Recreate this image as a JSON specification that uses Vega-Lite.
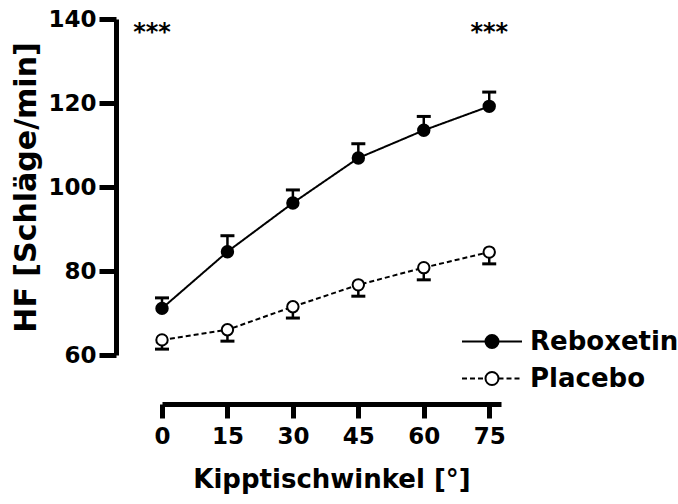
{
  "$schema": "https://vega.github.io/schema/vega-lite/v6.json",
  "width": 339,
  "height": 336,
  "autosize": {"type": "none"},
  "padding": {"left": 162, "top": 19, "right": 177, "bottom": 149},
  "background": "white",
  "config": {
    "font": "DejaVu Sans",
    "view": {"stroke": null},
    "axis": {
      "grid": false,
      "domainColor": "black",
      "domainWidth": 5,
      "tickColor": "black",
      "tickWidth": 5,
      "labelColor": "black",
      "labelFont": "DejaVu Sans",
      "labelFontWeight": "bold",
      "labelFontSize": 23,
      "titleColor": "black",
      "titleFont": "DejaVu Sans",
      "titleFontWeight": "bold",
      "titleFontSize": 26
    }
  },
  "datasets": {
    "hr": [
      {"angle": 0, "group": "Reboxetin", "hf": 71.1, "err": 73.6},
      {"angle": 15, "group": "Reboxetin", "hf": 84.6, "err": 88.4},
      {"angle": 30, "group": "Reboxetin", "hf": 96.2, "err": 99.3},
      {"angle": 45, "group": "Reboxetin", "hf": 106.9, "err": 110.3},
      {"angle": 60, "group": "Reboxetin", "hf": 113.5, "err": 116.8},
      {"angle": 75, "group": "Reboxetin", "hf": 119.2, "err": 122.6},
      {"angle": 0, "group": "Placebo", "hf": 63.6, "err": 61.4},
      {"angle": 15, "group": "Placebo", "hf": 66.0, "err": 63.3},
      {"angle": 30, "group": "Placebo", "hf": 71.5, "err": 68.8},
      {"angle": 45, "group": "Placebo", "hf": 76.7, "err": 74.0},
      {"angle": 60, "group": "Placebo", "hf": 80.8, "err": 77.9},
      {"angle": 75, "group": "Placebo", "hf": 84.5, "err": 81.7}
    ],
    "stars": [
      {"angle": 0, "hf": 140, "stars": "***"},
      {"angle": 75, "hf": 140, "stars": "***"}
    ]
  },
  "layer": [
    {
      "data": {"name": "hr"},
      "layer": [
        {
          "mark": {"type": "line", "color": "black", "strokeWidth": 2},
          "encoding": {
            "strokeDash": {
              "field": "group",
              "type": "nominal",
              "scale": {"domain": ["Reboxetin", "Placebo"], "range": [[1, 0], [5, 3]]},
              "legend": {
                "title": null,
                "orient": "none",
                "legendX": 317,
                "legendY": 309.5,
                "padding": 0,
                "symbolOffset": 0,
                "symbolType": "M-3,0H-0.65M0.65,0H3",
                "symbolSize": 400,
                "symbolStrokeWidth": 2,
                "symbolStrokeColor": "black",
                "symbolFillColor": "transparent",
                "labelFontSize": 26,
                "labelFontWeight": "bold",
                "labelOffset": 25,
                "labelOpacity": 0,
                "rowPadding": 11
              }
            }
          }
        },
        {
          "mark": {"type": "rule", "color": "black", "strokeWidth": 2.5, "opacity": 1},
          "encoding": {"y2": {"field": "err"}}
        },
        {
          "mark": {"type": "tick", "orient": "horizontal", "size": 14, "thickness": 3, "color": "black", "opacity": 1},
          "encoding": {"y": {"field": "err", "type": "quantitative"}}
        },
        {
          "mark": {"type": "point", "shape": "circle", "filled": true, "size": 130, "stroke": "black", "strokeWidth": 2, "opacity": 1},
          "encoding": {
            "fill": {
              "field": "group",
              "type": "nominal",
              "sort": "descending",
              "scale": {"range": ["black", "white"]},
              "legend": {
                "title": null,
                "orient": "none",
                "legendX": 317,
                "legendY": 309.5,
                "padding": 0,
                "symbolOffset": 0,
                "zindex": 1,
                "symbolType": "M0.65,0A0.65,0.65,0,1,1,-0.65,0A0.65,0.65,0,1,1,0.65,0Z",
                "symbolSize": 400,
                "symbolStrokeWidth": 2,
                "symbolStrokeColor": "black",
                "symbolOpacity": 1,
                "labelFont": "DejaVu Sans",
                "labelFontSize": 26,
                "labelFontWeight": "bold",
                "labelColor": "black",
                "labelOffset": 25,
                "rowPadding": 11
              }
            }
          }
        }
      ]
    },
    {
      "data": {"name": "stars"},
      "transform": [{"filter": "datum.angle == 0"}],
      "mark": {"type": "text", "fontSize": 24, "fontWeight": "bold", "color": "black", "baseline": "alphabetic", "dx": -10, "dy": 21},
      "encoding": {"text": {"field": "stars"}}
    },
    {
      "data": {"name": "stars"},
      "transform": [{"filter": "datum.angle == 75"}],
      "mark": {"type": "text", "fontSize": 24, "fontWeight": "bold", "color": "black", "baseline": "alphabetic", "dy": 21},
      "encoding": {"text": {"field": "stars"}}
    }
  ],
  "encoding": {
    "x": {
      "field": "angle",
      "type": "quantitative",
      "scale": {"domain": [0, 77.7], "nice": false, "zero": false},
      "axis": {
        "values": [0, 15, 30, 45, 60, 75],
        "offset": 49,
        "tickSize": 14,
        "labelPadding": 7,
        "labelFlush": false,
        "title": "Kipptischwinkel [°]",
        "titlePadding": 18
      }
    },
    "y": {
      "field": "hf",
      "type": "quantitative",
      "scale": {"domain": [60, 140], "nice": false, "zero": false},
      "axis": {
        "values": [60, 80, 100, 120, 140],
        "offset": 46,
        "tickSize": 17,
        "labelPadding": 3,
        "title": "HF [Schläge/min]",
        "titleFontSize": 30,
        "titlePadding": 6
      }
    }
  }
}
